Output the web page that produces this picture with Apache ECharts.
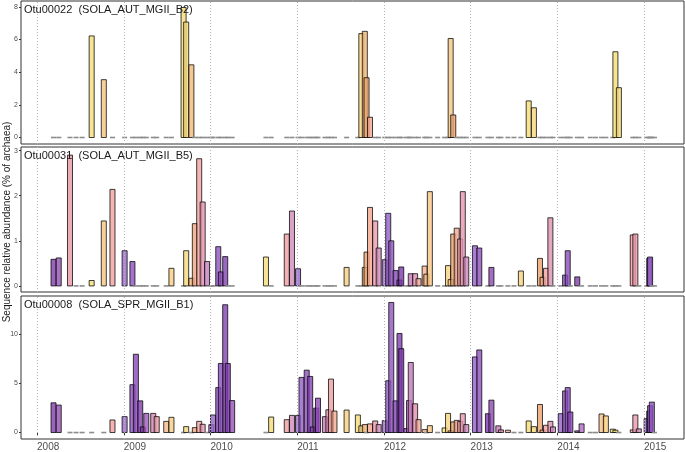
<!DOCTYPE html>
<html>
<head>
<meta charset="utf-8">
<script src="https://cdn.jsdelivr.net/npm/echarts@6/dist/echarts.min.js"></script>
<style>
  html, body { margin: 0; padding: 0; background: #fff; }
  #chart { width: 685px; height: 452px; }
</style>
</head>
<body>
<div id="chart"></div>
<script>
// sampling dates (decimal years), shared by the three OTUs
const sampleDates = [
  2008.19, 2008.25, 2008.38, 2008.45, 2008.52, 2008.63, 2008.77, 2008.87,
  2009.01, 2009.10, 2009.14, 2009.19, 2009.22, 2009.26, 2009.34, 2009.38,
  2009.49, 2009.55, 2009.69, 2009.72, 2009.78, 2009.82, 2009.87, 2009.91,
  2009.96, 2010.01, 2010.03, 2010.09, 2010.12, 2010.17, 2010.20, 2010.25,
  2010.64, 2010.70, 2010.88, 2010.94, 2011.01, 2011.05, 2011.11, 2011.15,
  2011.18, 2011.22, 2011.24, 2011.32, 2011.36, 2011.39, 2011.43, 2011.57,
  2011.70, 2011.74, 2011.78, 2011.80, 2011.84, 2011.90, 2011.94, 2012.01,
  2012.05, 2012.085, 2012.135, 2012.18, 2012.20, 2012.26, 2012.29, 2012.31,
  2012.36, 2012.40, 2012.47, 2012.49, 2012.53, 2012.62, 2012.70, 2012.74,
  2012.77, 2012.80, 2012.84, 2012.88, 2012.91, 2012.95, 2013.05, 2013.10,
  2013.20, 2013.24, 2013.32, 2013.35, 2013.43, 2013.50, 2013.58, 2013.67,
  2013.73, 2013.80, 2013.83, 2013.87, 2013.92, 2013.95, 2014.04, 2014.09,
  2014.12, 2014.15, 2014.23, 2014.28, 2014.38, 2014.44, 2014.51, 2014.56,
  2014.64, 2014.67, 2014.71, 2014.87, 2014.90, 2014.94, 2015.03, 2015.06,
  2015.07, 2015.09, 2015.12
];

// % of archaea, one value per sampling date
const otu00022 = [
  0, 0, 0, 0, 0, 6.22, 3.54, 0,
  0, 0, 0, 0, 0, 0, 0, 0,
  0, 0, 7.96, 7.07, 4.45, 0, 0, 0,
  0, 0, 0, 0, 0, 0, 0, 0,
  0, 0, 0, 0, 0, 0, 0, 0,
  0, 0, 0, 0, 0, 0, 0, 0,
  0, 6.36, 6.50, 3.66, 1.24, 0, 0, 0,
  0, 0, 0, 0, 0, 0, 0, 0,
  0, 0, 0, 0, 0, 0, 0, 0,
  6.06, 1.38, 0, 0, 0, 0, 0, 0,
  0, 0, 0, 0, 0, 0, 0, 2.24,
  1.82, 0, 0, 0, 0, 0, 0, 0,
  0, 0, 0, 0, 0, 0, 0, 0,
  0, 5.25, 3.05, 0, 0, 0, 0, 0,
  0, 0, 0
];

const otu00031 = [
  0.59, 0.62, 2.90, 0, 0, 0.12, 1.44, 2.14,
  0.78, 0.54, 0, 0, 0, 0, 0, 0,
  0, 0.39, 0, 0.78, 0.17, 1.38, 2.82, 1.86,
  0.54, 0, 0, 0.87, 0.31, 0.65, 0, 0,
  0.64, 0, 1.15, 1.66, 0.38, 0, 0, 0,
  0, 0, 0, 0, 0, 0, 0, 0.41,
  0, 0, 0.41, 0.75, 1.74, 1.44, 0.84, 0.58,
  1.61, 1.00, 0.34, 0.13, 0.42, 0, 0, 0.27,
  0.27, 0.16, 0.44, 0.26, 2.09, 0, 0, 0.45,
  0.14, 1.15, 1.28, 1.04, 2.09, 0.64, 0.89, 0.84,
  0, 0.41, 0, 0, 0, 0, 0.33, 0,
  0, 0.61, 0.19, 0.39, 1.51, 0, 0, 0.24,
  0.78, 0, 0.20, 0, 0, 0, 0, 0,
  0, 0, 0, 1.13, 1.15, 0, 0, 0.61,
  0.64, 0, 0
];

const otu00008 = [
  3.03, 2.80, 0, 0, 0, 0, 0, 1.28,
  1.62, 4.88, 7.98, 3.23, 0.57, 1.95, 1.95, 1.62,
  1.14, 1.55, 0, 0.60, 0, 0.50, 1.14, 0.84,
  0, 0.80, 1.79, 4.58, 7.04, 13.03, 7.04, 3.26,
  0, 1.58, 1.31, 1.75, 1.75, 5.62, 6.36, 5.72,
  0.57, 2.49, 3.50, 1.62, 2.32, 5.45, 2.19, 2.29,
  1.79, 0.68, 0.81, 0, 0.88, 1.18, 0.81, 1.21,
  5.28, 13.26, 3.23, 10.10, 8.55, 0.40, 3.26, 7.14,
  2.93, 1.31, 0.30, 0, 0.70, 0, 0.47, 1.95,
  0.17, 1.08, 1.24, 1.14, 1.92, 0.81, 7.71, 8.42,
  1.92, 3.30, 0.68, 0.27, 0.24, 0, 0, 1.18,
  0.60, 2.86, 0.24, 0.74, 1.14, 0.57, 1.92, 4.24,
  4.58, 2.09, 0.17, 0.88, 0, 0, 1.89, 1.69,
  0.34, 0.24, 0, 0.27, 1.79, 0.37, 1.41, 2.19,
  2.73, 3.10, 0
];

const panelTitles = [
  'Otu00022  (SOLA_AUT_MGII_B2)',
  'Otu00031  (SOLA_AUT_MGII_B5)',
  'Otu00008  (SOLA_SPR_MGII_B1)'
];
const yearTicks = [2008, 2009, 2010, 2011, 2012, 2013, 2014, 2015];
const yTickValues = [[0, 2, 4, 6, 8], [0, 1, 2, 3], [0, 5, 10]];
const yLimits = [[-0.398, 8.358], [-0.135, 3.08], [-0.66, 13.92]];
const xLimits = [2007.815, 2015.461];

// colour by time of year
const seasonStops = [
  [0.00, '#9a6ccc'], [0.12, '#8a4cba'], [0.22, '#7a36a8'], [0.28, '#b06cc2'],
  [0.34, '#d684b6'], [0.40, '#f2a49c'], [0.47, '#f6b48c'], [0.55, '#f8cc82'],
  [0.63, '#f6de78'], [0.70, '#f5dc76'], [0.76, '#f8d088'], [0.80, '#eca26e'],
  [0.85, '#f4a898'], [0.90, '#ec98ac'], [0.95, '#cc88bc'], [1.00, '#9a6ccc']
];

function hexToRgb(h) {
  return [1, 3, 5].map(i => parseInt(h.slice(i, i + 2), 16));
}

function seasonColor(date) {
  const f = date - Math.floor(date);
  for (let i = 1; i < seasonStops.length; i++) {
    if (f <= seasonStops[i][0]) {
      const [f0, c0] = seasonStops[i - 1];
      const [f1, c1] = seasonStops[i];
      const t = (f - f0) / (f1 - f0);
      const a = hexToRgb(c0), b = hexToRgb(c1);
      const rgb = a.map((v, k) => Math.round(v + (b[k] - v) * t));
      return 'rgba(' + rgb.join(',') + ',0.8)';
    }
  }
  return seasonStops[0][1];
}

function renderBar(params, api) {
  const x = api.value(0);
  const v = api.value(1);
  const base = api.coord([x, 0]);
  const w = api.size([0.058, 0])[0];
  if (v === 0) {
    return {
      type: 'line',
      shape: { x1: base[0] - w / 2, y1: base[1], x2: base[0] + w / 2, y2: base[1] },
      style: { stroke: '#8c8c8c', lineWidth: 1.6 }
    };
  }
  const top = api.coord([x, v]);
  return {
    type: 'rect',
    shape: { x: base[0] - w / 2, y: top[1], width: w, height: base[1] - top[1] },
    style: { fill: seasonColor(x), stroke: 'rgba(0,0,0,0.75)', lineWidth: 1 }
  };
}

const font = 'Liberation Sans, Arial, sans-serif';
const gridBoxes = [
  { top: 1, height: 143 },
  { top: 147, height: 145 },
  { top: 296, height: 144 }
];
const panelValues = [otu00022, otu00031, otu00008];

const chart = echarts.init(document.getElementById('chart'));

const option = {
  animation: false,
  backgroundColor: '#fff',
  title: panelTitles.map((t, i) => ({
    text: t,
    left: 24,
    top: gridBoxes[i].top + 3,
    padding: 0,
    textStyle: { fontSize: 11, fontWeight: 'normal', color: '#1a1a1a', fontFamily: font }
  })),
  graphic: [{
    type: 'text',
    x: 7,
    y: 222,
    rotation: Math.PI / 2,
    style: {
      text: 'Sequence relative abundance (% of archaea)',
      fontSize: 10,
      fontFamily: font,
      fill: '#1a1a1a',
      align: 'center',
      verticalAlign: 'middle'
    }
  }],
  grid: gridBoxes.map(g => ({
    left: 21, right: 1, top: g.top, height: g.height,
    show: true, borderColor: '#333', borderWidth: 1, backgroundColor: 'transparent'
  })),
  xAxis: gridBoxes.map((g, i) => ({
    type: 'value',
    gridIndex: i,
    min: xLimits[0],
    max: xLimits[1],
    axisLine: { show: false },
    axisTick: {
      show: i === 2, customValues: yearTicks, length: 3,
      lineStyle: { color: '#333' }
    },
    axisLabel: {
      show: i === 2, customValues: yearTicks, align: 'left',
      formatter: v => String(v),
      fontSize: 10, color: '#4d4d4d', fontFamily: font, margin: 3
    },
    splitLine: { show: false }
  })),
  yAxis: gridBoxes.map((g, i) => ({
    type: 'value',
    gridIndex: i,
    min: yLimits[i][0],
    max: yLimits[i][1],
    axisLine: { show: false },
    axisTick: { show: true, customValues: yTickValues[i], length: 2, lineStyle: { color: '#333' } },
    axisLabel: {
      customValues: yTickValues[i], fontSize: 7, color: '#4d4d4d',
      fontFamily: font, margin: 3
    },
    splitLine: { show: false }
  })),
  series: []
};

panelValues.forEach((vals, i) => {
  // dotted year lines
  option.series.push({
    type: 'line',
    xAxisIndex: i,
    yAxisIndex: i,
    data: [],
    z: 1,
    silent: true,
    markLine: {
      silent: true,
      symbol: 'none',
      label: { show: false },
      lineStyle: { type: [1, 2], color: '#b4b4b4', width: 1 },
      data: yearTicks.map(y => ({ xAxis: y }))
    }
  });
  option.series.push({
    type: 'custom',
    xAxisIndex: i,
    yAxisIndex: i,
    z: 2,
    clip: true,
    renderItem: renderBar,
    data: sampleDates.map((d, k) => [d, vals[k]])
  });
});

chart.setOption(option);
</script>
</body>
</html>
